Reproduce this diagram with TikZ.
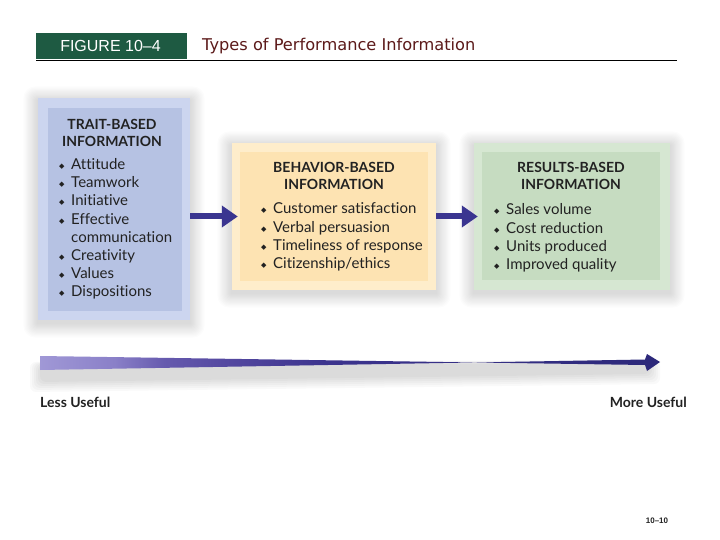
\documentclass[tikz,border=0pt]{standalone}
\usepackage{fontspec}
\usetikzlibrary{arrows.meta,backgrounds}
\newfontfamily\boxfont[Ligatures={NoCommon,NoRare}]{Lato}
\newfontfamily\hdrfont{Liberation Sans}
\newfontfamily\titlefont{DejaVu Sans}
\newfontfamily\symfont{DejaVu Sans}
\newcommand\dia{\makebox[12pt][l]{\raisebox{1pt}{\symfont\fontsize{7}{7}\selectfont ◆}}}
\newcommand\cont{\hspace*{12pt}}
\definecolor{hdrgreen}{HTML}{1E5A42}
\definecolor{titlered}{HTML}{5C1A1A}
\definecolor{traitout}{HTML}{CCD5EF}
\definecolor{traitin}{HTML}{B6C2E3}
\definecolor{behout}{HTML}{FEEDCB}
\definecolor{behin}{HTML}{FDE3B2}
\definecolor{resout}{HTML}{D6E7D2}
\definecolor{resin}{HTML}{C6DCC1}
\definecolor{arrowblue}{HTML}{3A3590}
\definecolor{ashA}{RGB}{160,152,214}
\definecolor{ashB}{RGB}{138,128,200}
\definecolor{ashC}{RGB}{102,90,174}
\definecolor{ashD}{RGB}{84,72,160}
\definecolor{ashE}{RGB}{60,52,142}
\definecolor{ashF}{RGB}{44,40,122}
\definecolor{txt}{HTML}{222222}
\pgfdeclarehorizontalshading{usefulshade}{100bp}{%
  color(0bp)=(ashA); color(25bp)=(ashA);
  color(31bp)=(ashB);
  color(35bp)=(ashC);
  color(40bp)=(ashD);
  color(48bp)=(ashE);
  color(75bp)=(ashF);
  color(100bp)=(ashF)}
\tikzset{
  outerbox/.style={rectangle, draw=none, inner sep=0pt},
  innerbox/.style={rectangle, draw=none, inner sep=0pt},
  headtext/.style={font=\boxfont\bfseries\fontsize{14}{17}\selectfont, text=txt, align=center, inner sep=0pt},
  itemtext/.style={font=\boxfont\fontsize{15}{18.2}\selectfont, text=txt, align=left, inner sep=0pt, anchor=west},
  conn/.style={draw=arrowblue, line width=6pt, -{Triangle[length=16pt,width=21pt]}},
  endlabel/.style={font=\boxfont\bfseries\fontsize{14}{16}\selectfont, text=txt, inner sep=0pt},
  glow/.style={fill=black, fill opacity=0.012, draw=none}
}
\begin{document}
\begin{tikzpicture}[x=1pt,y=-1pt]
\useasboundingbox (0,0) rectangle (720,540);
% header
\node[rectangle, fill=hdrgreen, minimum width=151pt, minimum height=26pt, inner sep=0pt] (hdr) at (111.5,46) {};
\node[font=\hdrfont\fontsize{16}{18}\selectfont, text=white, inner sep=0pt] (fig) at (110.5,46) {FIGURE 10–4};
\node[font=\titlefont\fontsize{16.2}{18}\selectfont, text=titlered, anchor=west, inner sep=0pt] (title) at (202,46) {Types of Performance Information};
\coordinate (lineL) at (36,61);
\coordinate (lineR) at (677,61);
\draw[line width=1pt, black] (lineL) -- (lineR);
% trait box
\node[outerbox, fill=traitout, minimum width=152pt, minimum height=222pt] (trait) at (114,209) {};
\node[innerbox, fill=traitin, minimum width=134pt, minimum height=203pt] (traitin) at (115,209.5) {};
\node[headtext] (traith) at (112,133) {TRAIT-BASED\\INFORMATION};
\node[itemtext] (traitl) at (59,229) {\dia Attitude\\\dia Teamwork\\\dia Initiative\\\dia Effective\\\cont communication\\\dia Creativity\\\dia Values\\\dia Dispositions};
% behavior box
\node[outerbox, fill=behout, minimum width=204pt, minimum height=147pt] (beh) at (334,216.5) {};
\node[innerbox, fill=behin, minimum width=188pt, minimum height=129pt] (behin) at (334,216.5) {};
\node[headtext] (behh) at (334,176) {BEHAVIOR-BASED\\INFORMATION};
\node[itemtext] (behl) at (261,237) {\dia Customer satisfaction\\\dia Verbal persuasion\\\dia Timeliness of response\\\dia Citizenship/ethics};
% results box
\node[outerbox, fill=resout, minimum width=196pt, minimum height=147pt] (res) at (572,216.5) {};
\node[innerbox, fill=resin, minimum width=178pt, minimum height=128pt] (resin) at (571,216) {};
\node[headtext] (resh) at (571,176) {RESULTS-BASED\\INFORMATION};
\node[itemtext] (resl) at (494,238) {\dia Sales volume\\\dia Cost reduction\\\dia Units produced\\\dia Improved quality};
% soft glows behind the boxes
\begin{scope}[on background layer]
  \fill[white] (0,0) rectangle (720,540);
  \foreach \b in {trait,beh,res} {
    \foreach \g in {1,2,...,12} {
      \fill[glow, rounded corners=\g pt] ([shift={(-1.2*\g pt,1.2*\g pt-3pt)}]\b.north west) rectangle ([shift={(1.2*\g pt,-1.2*\g pt-3pt)}]\b.south east);
    }
  }
\end{scope}
% connectors
\draw[conn] (trait.east |- beh.west) -- ([xshift=6pt]beh.west);
\draw[conn] (beh.east) -- ([xshift=4pt]res.west);
% bottom arrow: soft shadow
\coordinate (lessend) at (40,363);
\coordinate (moreend) at (660,362);
\foreach \g in {0,2,4,6,8,10} {
  \fill[glow, fill opacity=0.022, rounded corners=6pt] (40-\g,365-\g*0.3) -- (650+\g,363-\g*0.3) -- (650+\g,374+\g) -- (40-\g,382+\g) -- cycle;
}
\shade[shading=usefulshade]
  ([yshift=-7pt]lessend) -- (645,359.5) -- (647,354) -- (moreend) -- (647,371) -- (645,365) -- ([yshift=7pt]lessend) -- cycle;
\node[endlabel, anchor=west] (less) at (40,402) {Less Useful};
\node[endlabel, anchor=east] (more) at (687,402) {More Useful};
\node[font=\hdrfont\bfseries\fontsize{8}{9}\selectfont, text=txt, inner sep=0pt] (pg) at (657,521) {10–10};
\end{tikzpicture}
\end{document}
